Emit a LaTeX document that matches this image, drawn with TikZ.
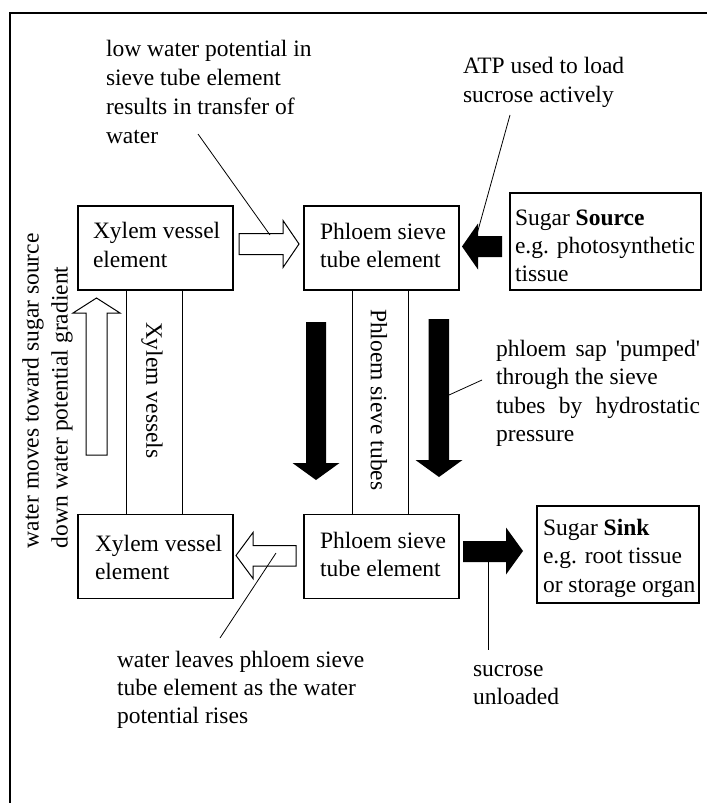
\documentclass[tikz,border=0pt]{standalone}
\usepackage{fontspec}
\setmainfont{Liberation Serif}
\usetikzlibrary{calc}
\begin{document}
\begin{tikzpicture}[x=1pt,y=-1pt,
  every node/.style={inner sep=0pt, outer sep=0pt, font=\fontsize{23.5}{29}\selectfont},
  lbl/.style={anchor=base west},
  box/.style={draw, line width=1.1pt, rectangle, minimum width=#1},
  openarr/.style={draw, fill=white, line width=1pt, line join=miter},
  blackarr/.style={fill=black},
  tube/.style={line width=0.9pt},
  callout/.style={line width=0.8pt}]
\useasboundingbox (0,0) rectangle (707,803);
\fill[white] (0,0) rectangle (707,803);
% frame
\draw[line width=1.2pt] (10,803) -- (10,13) -- (707,13);

% boxes
\node[box=155pt, minimum height=84pt] (xt) at (155.5,248) {};
\node[box=155pt, minimum height=84pt] (pt) at (381.5,248) {};
\node[box=191pt, minimum height=97pt] (src) at (605.5,241.5) {};
\node[box=155pt, minimum height=84pt] (xb) at (155.5,556.5) {};
\node[box=155pt, minimum height=84pt] (pb) at (381.5,556.5) {};
\node[box=162pt, minimum height=97pt] (snk) at (618,554.5) {};

% box texts
\node[lbl] (xt1) at (93,238) {Xylem vessel};
\node[lbl] (xt2) at (93,267) {element};
\node[lbl] (pt1) at (320,239) {Phloem sieve};
\node[lbl] (pt2) at (320,267) {tube element};
\node[lbl] (src1) at (515,225) {Sugar \textbf{Source}};
\node[lbl] (src2) at (515,253) {e.g. photosynthetic};
\node[lbl] (src3) at (515,281) {tissue};
\node[lbl] (xb1) at (95,551) {Xylem vessel};
\node[lbl] (xb2) at (95,579) {element};
\node[lbl] (pb1) at (320,548) {Phloem sieve};
\node[lbl] (pb2) at (320,576) {tube element};
\node[lbl] (snk1) at (543,535) {Sugar \textbf{Sink}};
\node[lbl] (snk2) at (543,563.5) {e.g. root tissue};
\node[lbl] (snk3) at (543,592) {or storage organ};

% tubes
\draw[tube] ($(xt.south west)+(48,0)$) -- ($(xb.north west)+(48,0)$);
\draw[tube] ($(xt.south west)+(104,0)$) -- ($(xb.north west)+(104,0)$);
\draw[tube] ($(pt.south west)+(48,0)$) -- ($(pb.north west)+(48,0)$);
\draw[tube] ($(pt.south west)+(104,0)$) -- ($(pb.north west)+(104,0)$);
\node[rotate=-90, anchor=west] (xv) at (152,322) {Xylem vessels};
\node[rotate=-90, anchor=west] (pv) at (379,309) {Phloem sieve tubes};

% left rotated text
\node[rotate=90, anchor=west] (wm1) at (33,548) {water moves toward sugar source};
\node[rotate=90, anchor=west] (wm2) at (62,548) {down water potential gradient};

% block arrows
\draw[openarr] (239,233.5) -- (283,233.5) -- (283,220.5) -- (299,244) -- (283,267.5) -- (283,254.5) -- (239,254.5) -- cycle;
\fill[blackarr] (502,236) -- (478,236) -- (478,223.5) -- (462,246.5) -- (478,269.5) -- (478,257) -- (502,257) -- cycle;
\draw[openarr] (86,455) -- (86,313) -- (73,313) -- (96.5,298) -- (120,313) -- (107,313) -- (107,455) -- cycle;
\fill[blackarr] (306,322) -- (326,322) -- (326,463) -- (339.5,463) -- (316,480) -- (292.5,463) -- (306,463) -- cycle;
\fill[blackarr] (428.5,319) -- (449,319) -- (449,460) -- (462.5,460) -- (439,477) -- (415.5,460) -- (428.5,460) -- cycle;
\draw[openarr] (296,545.5) -- (253,545.5) -- (253,532.5) -- (236,555.5) -- (253,578.5) -- (253,566) -- (296,566) -- cycle;
\fill[blackarr] (463,541) -- (506,541) -- (506,527.5) -- (523,551) -- (506,574.5) -- (506,562) -- (463,562) -- cycle;

% annotation texts
\foreach \t [count=\i from 0] in {low water potential in, sieve tube element, results in transfer of, water}
  \node[lbl] (lw\i) at (106,56.5+29*\i) {\t};
\foreach \t [count=\i from 0] in {ATP used to load, sucrose actively}
  \node[lbl] (atp\i) at (463,73+29*\i) {\t};
\foreach \t [count=\i from 0] in {{\makebox[204pt][s]{phloem sap \textquotesingle pumped\textquotesingle}}, through the sieve, {\makebox[204pt][s]{tubes by hydrostatic}}, pressure}
  \node[lbl] (ps\i) at (496,356+28.5*\i) {\t};
\foreach \t [count=\i from 0] in {water leaves phloem sieve, tube element as the water, potential rises}
  \node[lbl] (wl\i) at (117,667+28*\i) {\t};
\foreach \t [count=\i from 0] in {sucrose, unloaded}
  \node[lbl] (su\i) at (473,676+28*\i) {\t};

% callout lines
\coordinate (c1a) at (198,134); \coordinate (c1b) at (270,235);
\coordinate (c2a) at (510,115); \coordinate (c2b) at (477,234);
\coordinate (c3a) at (482,380); \coordinate (c3b) at (449,395);
\coordinate (c4a) at (276,553); \coordinate (c4b) at (220,638);
\coordinate (c5a) at (488,562); \coordinate (c5b) at (488,650);
\draw[callout] (c1a) -- (c1b);
\draw[callout] (c2a) -- (c2b);
\draw[callout] (c3a) -- (c3b);
\draw[callout] (c4a) -- (c4b);
\draw[callout] (c5a) -- (c5b);
\end{tikzpicture}
\end{document}
